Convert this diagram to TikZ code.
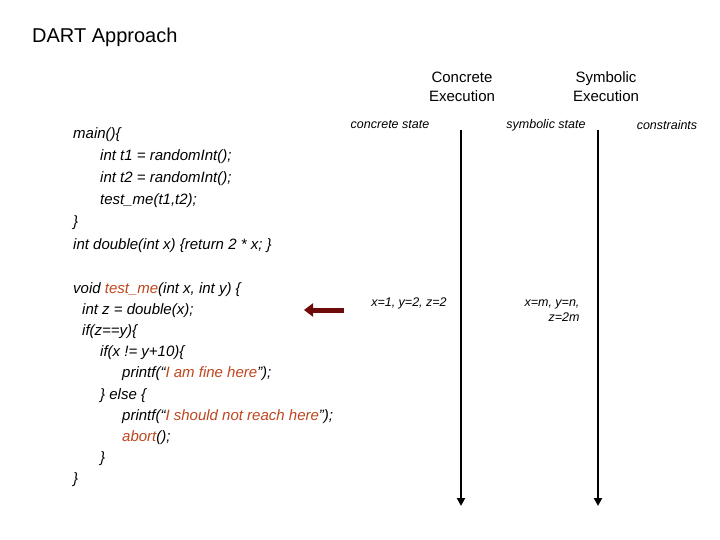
\documentclass[tikz,border=0pt]{standalone}
\usepackage{fontspec}
\setmainfont{Liberation Sans}
\usetikzlibrary{arrows.meta}
\definecolor{codered}{RGB}{190,70,30}
\definecolor{arrowred}{RGB}{110,10,10}
\tikzset{
  code/.style={anchor=north west,align=left,font=\itshape\fontsize{15}{21.2}\selectfont,inner sep=0pt},
  head/.style={align=center,font=\fontsize{15}{19}\selectfont,inner sep=0pt},
  small/.style={font=\itshape\fontsize{12.5}{15}\selectfont,inner sep=0pt},
  timeline/.style={line width=2pt,-{Triangle[length=8pt,width=8pt]}}
}
\begin{document}
\begin{tikzpicture}[x=1pt,y=-1pt]
  \useasboundingbox (0,0) rectangle (720,540);
  \node[anchor=west,font=\fontsize{20}{22}\selectfont,inner sep=0pt] (title) at (32,37) {DART Approach};
  % column heads
  \node[head] (conc) at (462,87) {Concrete\\Execution};
  \node[head] (symb) at (606,87) {Symbolic\\Execution};
  \node[small] (cstate) at (390,125) {concrete state};
  \node[small] (sstate) at (546,125) {symbolic state};
  \node[small] (cons) at (667,125) {constraints};
  % time lines
  \coordinate (c1) at (461,130);
  \coordinate (c2) at (461,506);
  \coordinate (s1) at (598,130);
  \coordinate (s2) at (598,506);
  \draw[timeline] (c1) -- (c2);
  \draw[timeline] (s1) -- (s2);
  % program
  \node[code,font=\itshape\fontsize{15}{22.2}\selectfont] (main) at (73,127) {main()\{\\
    \hspace*{27pt}int t1 = randomInt();\\
    \hspace*{27pt}int t2 = randomInt();\\
    \hspace*{27pt}test\_me(t1,t2);\\
    \}\\
    int double(int x) \{return 2 * x; \}};
  \node[code] (test) at (73,282) {void \textcolor{codered}{test\_me}(int x, int y) \{\\
    \hspace*{9pt}int z = double(x);\\
    \hspace*{9pt}if(z==y)\{\\
    \hspace*{27pt}if(x != y+10)\{\\
    \hspace*{49pt}printf(``\textcolor{codered}{I am fine here}'');\\
    \hspace*{27pt}\} else \{\\
    \hspace*{49pt}printf(``\textcolor{codered}{I should not reach here}'');\\
    \hspace*{49pt}\textcolor{codered}{abort}();\\
    \hspace*{27pt}\}\\
    \}};
  % current position
  \coordinate (pcstart) at (344,310);
  \coordinate (pcend) at (304,310);
  \draw[line width=5pt,arrowred,-{Triangle[length=9pt,width=13pt]}] (pcstart) -- (pcend);
  \node[small] (cval) at (409,303) {x=1, y=2, z=2};
  \node[small,align=right] (sval) at (552,311) {x=m, y=n,\\z=2m};
\end{tikzpicture}
\end{document}
